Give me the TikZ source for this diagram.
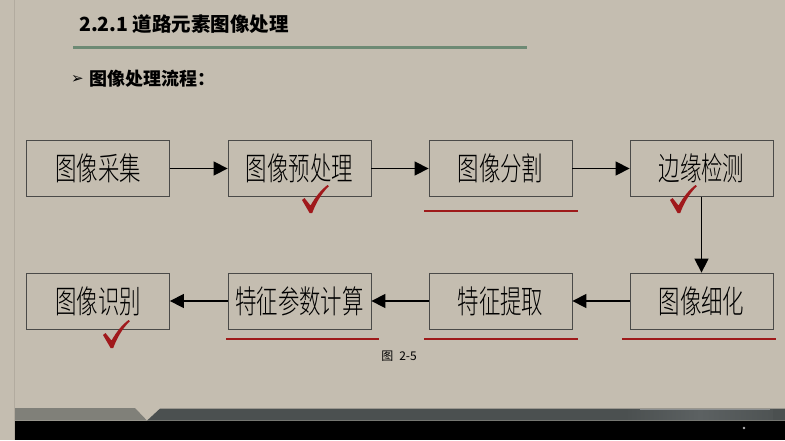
\documentclass[tikz,border=0pt]{standalone}
\usepackage{fontspec}
\setmainfont{Noto Sans CJK SC}
\newfontfamily\cjk{Noto Sans CJK SC}
\newfontfamily\boxfont[FakeStretch=0.67]{Noto Sans CJK SC Light}
\newfontfamily\dejavu{DejaVu Sans}
\usetikzlibrary{arrows.meta}
\definecolor{bg}{HTML}{C4BDB0}
\definecolor{boxline}{HTML}{4A4A48}
\definecolor{redln}{HTML}{9E1A1A}
\definecolor{chkred}{HTML}{A0191C}
\definecolor{greenln}{HTML}{6D8A74}
\definecolor{grayband}{HTML}{808079}
\definecolor{darkband}{HTML}{4B5050}
\definecolor{lightband}{HTML}{5C6162}
\definecolor{stripline}{HTML}{B2AB9F}
\tikzset{
  stepbox/.style={draw=boxline, line width=0.8pt, minimum width=143pt, minimum height=56pt,
    inner sep=0pt, font=\boxfont\fontsize{32}{32}\selectfont},
  arr/.style={line width=1.4pt, draw=black, -{Triangle[length=14pt,width=14pt]}},
  redline/.style={draw=redln, line width=2pt},
  chk/.pic={\fill[chkred] (0,15) -- (2.5,13) -- (8.5,20.5) .. controls (14,11) and (19,5) .. (25.5,0)
      -- (26.8,1.2) .. controls (19,9) and (14,18) .. (10.2,28) -- (7.6,28) -- cycle;}
}
\begin{document}
\begin{tikzpicture}[x=1pt,y=-1pt]
\useasboundingbox (0,0) rectangle (785,440);
\fill[bg] (0,0) rectangle (785,440);
\draw[stripline, line width=0.8pt] (14.5,0) -- (14.5,440);

% title
\node[anchor=west, inner sep=0pt, font=\cjk\bfseries\fontsize{19.5}{19.5}\selectfont] (title) at (79,24) {2.2.1 道路元素图像处理};
\draw[greenln, line width=2.5pt] (73,47.7) -- (527,47.7);
\node[anchor=west, inner sep=0pt, font=\dejavu\fontsize{15}{15}\selectfont] (bul) at (71,79) {➢};
\node[anchor=west, inner sep=0pt, font=\cjk\bfseries\fontsize{18}{18}\selectfont] (sub) at (89,79) {图像处理流程：};

% boxes
\node[stepbox] (b1) at (98,168.5) {图像采集};
\node[stepbox] (b2) at (299.5,168.5) {图像预处理};
\node[stepbox] (b3) at (500.5,168.5) {图像分割};
\node[stepbox] (b4) at (701.5,168.5) {边缘检测};
\node[stepbox] (b5) at (98,301) {图像识别};
\node[stepbox] (b6) at (299.5,301) {特征参数计算};
\node[stepbox] (b7) at (500.5,301) {特征提取};
\node[stepbox] (b8) at (701.5,301) {图像细化};

% connectors
\draw[arr] (b1) -- (b2);
\draw[arr] (b2) -- (b3);
\draw[arr] (b3) -- (b4);
\draw[arr] (b4) -- (b8);
\draw[arr] (b8) -- (b7);
\draw[arr] (b7) -- (b6);
\draw[arr] (b6) -- (b5);

% red underlines
\draw[redline] (424,210.7) -- (578,210.7);
\draw[redline] (226,339) -- (379,339);
\draw[redline] (424,339) -- (578,339);
\draw[redline] (622,339) -- (776,339);

% check marks
\pic at (302,185) {chk};
\pic at (670,185) {chk};
\pic at (103,320) {chk};

% caption
\node[font=\cjk\fontsize{12}{12}\selectfont, inner sep=0pt] (cap) at (399,356) {图\hspace{6pt}2-5};

% bottom band
\fill[grayband] (15,408) -- (135,408) -- (147,420.6) -- (15,420.6) -- cycle;
\fill[darkband] (160,408.6) -- (785,408.6) -- (785,420.6) -- (147,420.6) -- cycle;
\shade[left color=darkband, right color=lightband] (625,409.5) rectangle (700,419.8);
\shade[left color=lightband, right color=darkband!80!lightband] (700,409.5) rectangle (773,419.8);
\draw[lightband!70!white, line width=0.5pt] (640,409.6) -- (770,409.6);
\fill[black] (15,420.6) rectangle (785,440);
\fill[gray!60] (744,428) circle (1.3);
\end{tikzpicture}
\end{document}
